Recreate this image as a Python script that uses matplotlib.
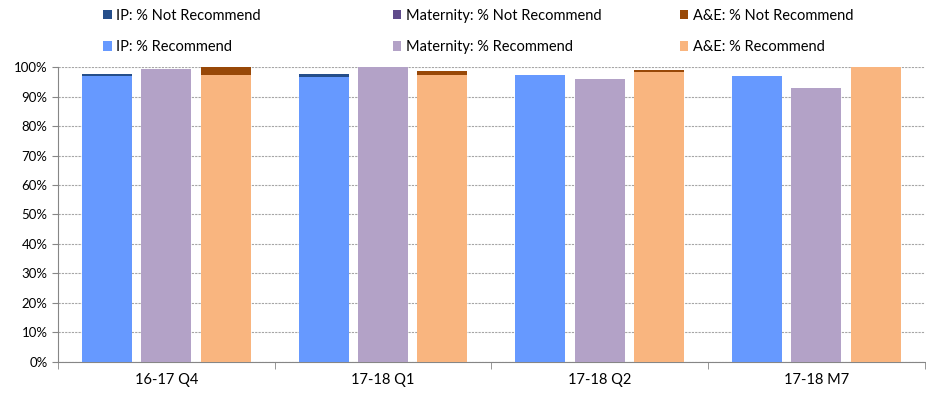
import numpy as np
import matplotlib.pyplot as plt
from matplotlib.ticker import PercentFormatter, FixedLocator, NullFormatter

plt.rcParams['font.family'] = ['Lato', 'DejaVu Sans']

# Data (fractions)
periods = ["16-17 Q4", "17-18 Q1", "17-18 Q2", "17-18 M7"]
ip_rec = [0.969, 0.967, 0.973, 0.969]
ip_not = [0.007, 0.008, 0.0, 0.0]
mat_rec = [0.993, 1.000, 0.960, 0.929]
mat_not = [0.0, 0.0, 0.0, 0.0]
ae_rec = [0.974, 0.972, 0.984, 1.000]
ae_not = [0.026, 0.014, 0.006, 0.0]

series = [
    ("IP", ip_rec, ip_not, "#6699FF", "#254E8A"),
    ("Maternity", mat_rec, mat_not, "#B3A2C7", "#5F4B8B"),
    ("A&E", ae_rec, ae_not, "#F9B57F", "#984807"),
]

fig = plt.figure(figsize=(9.26, 3.97), dpi=100)
ax = fig.add_axes([0.0626, 0.0882, 0.936, 0.743])

x = np.arange(len(periods))
offsets = [-0.274, 0.0, 0.274]
width = 0.23
legend_x = [0.111, 0.424, 0.734]
for (name, rec, nrec, c_rec, c_not), off, lx in zip(series, offsets, legend_x):
    h_rec = ax.bar(x + off, rec, width, color=c_rec, zorder=3,
                   label=f"{name}: % Recommend")
    h_not = ax.bar(x + off, nrec, width, bottom=rec, color=c_not, zorder=3,
                   label=f"{name}: % Not Recommend")
    # one legend column per service
    fig.legend(handles=[h_not, h_rec], loc='upper left',
               bbox_to_anchor=(lx, 0.978), frameon=False, fontsize=10.5,
               handlelength=0.6, handleheight=0.6, handletextpad=0.3,
               labelspacing=1.2, borderpad=0, borderaxespad=0)

ax.set_ylim(0, 1)
ax.set_xlim(-0.5, len(periods) - 0.5)
ax.set_yticks(np.arange(0, 1.01, 0.1))
ax.yaxis.set_major_formatter(PercentFormatter(1.0, decimals=0))
ax.grid(axis='y', linestyle=(0, (2, 1)), color='#A6A6A6', linewidth=0.8, zorder=0)

ax.set_xticks(x)
ax.set_xticklabels(periods, fontsize=10.5)
ax.tick_params(axis='x', length=0, pad=8)
ax.xaxis.set_minor_locator(FixedLocator(np.arange(-0.5, len(periods), 1.0)))
ax.xaxis.set_minor_formatter(NullFormatter())
ax.tick_params(axis='x', which='minor', length=5, color='#868686', direction='out')
ax.tick_params(axis='y', labelsize=9.5, length=4, color='#868686', direction='out')

for s in ['top', 'right']:
    ax.spines[s].set_visible(False)
for s in ['left', 'bottom']:
    ax.spines[s].set_color('#868686')

fig.savefig("out.png", dpi=100)
